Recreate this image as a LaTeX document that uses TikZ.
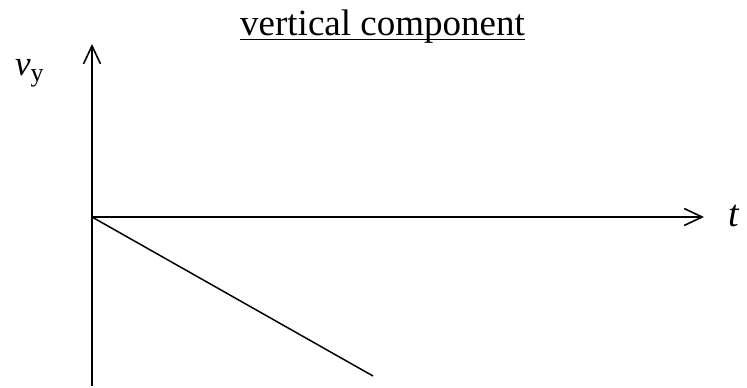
\documentclass[tikz,border=0pt]{standalone}
\usepackage{fontspec}
\setmainfont{Liberation Serif}
\usetikzlibrary{arrows.meta,positioning,calc}

\begin{document}
\begin{tikzpicture}[x=1pt, y=1pt, axis/.style={line width=1.8pt, -{Straight Barb[length=18pt, width=17pt, line width=1.6pt]}}, every node/.style={inner sep=0pt}]
				\useasboundingbox (0,0) rectangle (747,-388);
				\coordinate (origin) at (92,-217);
				\coordinate (ytop) at (92,-44);
				\coordinate (ybot) at (92,-386);
				\coordinate (xend) at (704,-217);
				\coordinate (vend) at (373,-376);
				
				\node[anchor=base, font=\fontsize{37}{40}\selectfont] (title) at (382.5,-35) {vertical component};
				\draw[line width=1.4pt] ([yshift=-4.5pt]title.base west) -- ([yshift=-4.5pt]title.base east);
				\node[anchor=base west, font=\fontsize{35}{38}\selectfont] (vy) at (15,-75) {\textit{v}\raisebox{-6pt}{\fontsize{26}{28}\selectfont y}};
				\node[anchor=base west, font=\fontsize{38}{40}\selectfont] (t) at (728,-226) {\textit{t}};
				
				\draw[axis] (ybot) -- (ytop);
				\draw[axis] (origin) -- (xend);
				\draw[line width=1.5pt] (origin) -- (vend);
			\end{tikzpicture}
\end{document}
